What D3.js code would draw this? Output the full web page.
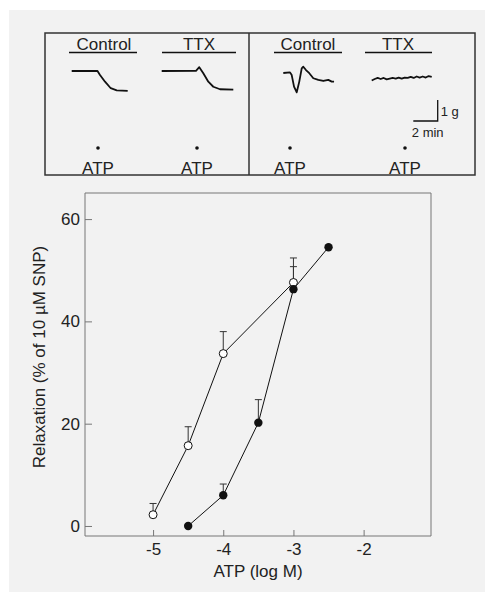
<!DOCTYPE html>
<html>
<head>
<meta charset="utf-8">
<script src="https://cdn.jsdelivr.net/npm/d3@7"></script>
<style>
  body { margin: 0; background: #fff; overflow: hidden; }
  svg { display: block; }
  text { font-family: "Liberation Sans", Arial, sans-serif; fill: #222; }
</style>
</head>
<body>
<div class="chart"></div>
<script>
// concentration-response data
var logAtpOpen = [-5, -4.5, -4, -3];
var relaxOpen = [2.2, 15.7, 33.7, 47.6];
var semOpen = [2.2, 3.7, 4.3, 4.8];

var logAtpFilled = [-4.5, -4, -3.5, -3, -2.5];
var relaxFilled = [0, 6, 20.2, 46.3, 54.5];
var semFilled = [0, 2.2, 4.5, 4.4, 0];

var xTicks = [-5, -4, -3, -2];
var yTicks = [0, 20, 40, 60];

// tension traces (time in min, tension change in g)
var traceControlA = [[0,0],[2.1,0.01],[2.32,-0.19],[2.73,-0.51],[3.2,-0.82],[3.69,-0.92],[4.59,-0.95]];
var traceTtxA = [[0,0],[2.81,0.01],[3.08,0.18],[3.41,-0.11],[3.82,-0.51],[4.23,-0.75],[4.78,-0.87],[5.87,-0.89]];
var traceControlB = [[0,0],[0.55,0.03],[0.69,-0.1],[0.88,-0.65],[1.1,-0.92],[1.31,-0.41],[1.51,0.22],[1.64,0.3],[1.86,0.14],[2.13,-0.01],[2.46,-0.25],[2.87,-0.33],[3.28,-0.38],[3.69,-0.33],[3.97,-0.41],[4.16,-0.41]];
var traceTtxB = [[0,-0.07],[0.25,0],[0.49,0.05],[0.74,0],[0.98,0.05],[1.23,-0.02],[1.48,0.02],[1.72,0.05],[1.97,0.02],[2.21,0.07],[2.46,0.02],[2.7,0.07],[2.95,0.05],[3.2,0.1],[3.44,0.05],[3.69,0.12],[3.93,0.07],[4.18,0.12],[4.43,0.07],[4.67,0.14],[4.92,0.1]];

var width = 485, height = 592;

var svg = d3.select(".chart").append("svg").attr("width", width).attr("height", height);

// grey panel
svg.append("rect").attr("x", 9).attr("y", 10).attr("width", 476).attr("height", 582).attr("fill", "#f2f2f2");

// ---------- top panel with traces ----------
var panel = svg.append("g");
panel.append("rect").attr("x", 45).attr("y", 33).attr("width", 430).attr("height", 142)
  .attr("fill", "none").attr("stroke", "#333").attr("stroke-width", 1.5);
panel.append("line").attr("x1", 249).attr("x2", 249).attr("y1", 33).attr("y2", 175)
  .attr("stroke", "#333").attr("stroke-width", 1.5);

var tMin = d3.scaleLinear().domain([0, 1]).range([0, 12.2]);
var tG = d3.scaleLinear().domain([0, 1]).range([0, -21]);
var traceLine = d3.line().x(function(d){return tMin(d[0]);}).y(function(d){return tG(d[1]);});

var traces = [
  {data: traceControlA, x: 71.7, y: 71, label: "Control", lx: 104, l1: 69, l2: 137, atp: 98},
  {data: traceTtxA, x: 161.7, y: 71, label: "TTX", lx: 199, l1: 162, l2: 236, atp: 197},
  {data: traceControlB, x: 283.3, y: 73, label: "Control", lx: 308, l1: 274, l2: 342, atp: 290},
  {data: traceTtxB, x: 371.7, y: 79, label: "TTX", lx: 398, l1: 365, l2: 432, atp: 405}
];

traces.forEach(function(t){
  panel.append("path")
    .attr("transform", "translate(" + t.x + "," + t.y + ")")
    .attr("d", traceLine(t.data))
    .attr("fill", "none").attr("stroke", "#111").attr("stroke-width", 1.8)
    .attr("stroke-linejoin", "round");
  panel.append("text").attr("x", t.lx).attr("y", 50).attr("text-anchor", "middle")
    .style("font-size", "17px").text(t.label);
  panel.append("line").attr("x1", t.l1).attr("x2", t.l2).attr("y1", 52.5).attr("y2", 52.5)
    .attr("stroke", "#111").attr("stroke-width", 1.3);
  panel.append("circle").attr("cx", t.atp).attr("cy", 148).attr("r", 1.8).attr("fill", "#111");
  panel.append("text").attr("x", t.atp).attr("y", 174).attr("text-anchor", "middle")
    .style("font-size", "17px").text("ATP");
});

// scale bar: 2 min, 1 g
var sb = panel.append("g").attr("transform", "translate(437.7,121)");
sb.append("path")
  .attr("d", traceLine([[-2, 0], [0, 0], [0, 1]]))
  .attr("fill", "none").attr("stroke", "#111").attr("stroke-width", 1.3);
sb.append("text").attr("x", 3).attr("y", -5).style("font-size", "13px").text("1 g");
sb.append("text").attr("x", -10).attr("y", 16).attr("text-anchor", "middle").style("font-size", "13px").text("2 min");

// ---------- concentration-response plot ----------
var left = 85, right = 431, plotTop = 193, bottom = 536;

var x = d3.scaleLinear().domain([-5.97, -1.04]).range([left, right]);
var y = d3.scaleLinear().domain([-1.96, 65.1]).range([bottom, plotTop]);

var chart = svg.append("g");

// frame
chart.append("path")
  .attr("d", "M" + left + "," + bottom + "V" + plotTop + "H" + right + "V" + bottom + "Z")
  .attr("fill", "none").attr("stroke", "#777").attr("stroke-width", 1);

var plain = function(d){ return String(d); };
var yAxis = d3.axisLeft(y).tickValues(yTicks).tickFormat(plain).tickSize(-7).tickPadding(5);
var xAxis = d3.axisBottom(x).tickValues(xTicks).tickFormat(plain).tickSize(-6).tickPadding(7);

var gy = chart.append("g").attr("transform", "translate(" + left + ",0)").call(yAxis);
var gx = chart.append("g").attr("transform", "translate(0," + bottom + ")").call(xAxis);
[gy, gx].forEach(function(g){
  g.select(".domain").remove();
  g.selectAll(".tick line").attr("stroke", "#777");
  g.selectAll(".tick text").style("font-size", "17px").attr("fill", "#222")
    .style("font-family", "'Liberation Sans', Arial, sans-serif");
});

var openPts = logAtpOpen.map(function(v, i){ return {x: v, y: relaxOpen[i], e: semOpen[i]}; });
var filledPts = logAtpFilled.map(function(v, i){ return {x: v, y: relaxFilled[i], e: semFilled[i]}; });

var line = d3.line().x(function(d){return x(d.x);}).y(function(d){return y(d.y);});

[openPts, filledPts].forEach(function(pts){
  chart.append("path").attr("d", line(pts))
    .attr("fill", "none").attr("stroke", "#111").attr("stroke-width", 1);
});

// error bars (upper only)
var bars = openPts.concat(filledPts).filter(function(d){ return d.e > 0; });
bars.forEach(function(d){
  var cx = x(d.x), y0 = y(d.y), y1 = y(d.y + d.e);
  chart.append("line").attr("x1", cx).attr("x2", cx).attr("y1", y0).attr("y2", y1)
    .attr("stroke", "#333").attr("stroke-width", 1);
  chart.append("line").attr("x1", cx - 3.5).attr("x2", cx + 3.5).attr("y1", y1).attr("y2", y1)
    .attr("stroke", "#333").attr("stroke-width", 1);
});

chart.selectAll(".open").data(openPts).enter().append("circle")
  .attr("class", "open")
  .attr("cx", function(d){return x(d.x);}).attr("cy", function(d){return y(d.y);})
  .attr("r", 4).attr("fill", "#fff").attr("stroke", "#111").attr("stroke-width", 1);

chart.selectAll(".filled").data(filledPts).enter().append("circle")
  .attr("class", "filled")
  .attr("cx", function(d){return x(d.x);}).attr("cy", function(d){return y(d.y);})
  .attr("r", 4.2).attr("fill", "#111");

// axis titles
svg.append("text")
  .attr("transform", "translate(258,577)")
  .attr("text-anchor", "middle")
  .style("font-size", "17px")
  .text("ATP (log M)");

svg.append("text")
  .attr("transform", "translate(45,357) rotate(-90)")
  .attr("text-anchor", "middle")
  .style("font-size", "17px")
  .text("Relaxation (% of 10 µM SNP)");
</script>
</body>
</html>
